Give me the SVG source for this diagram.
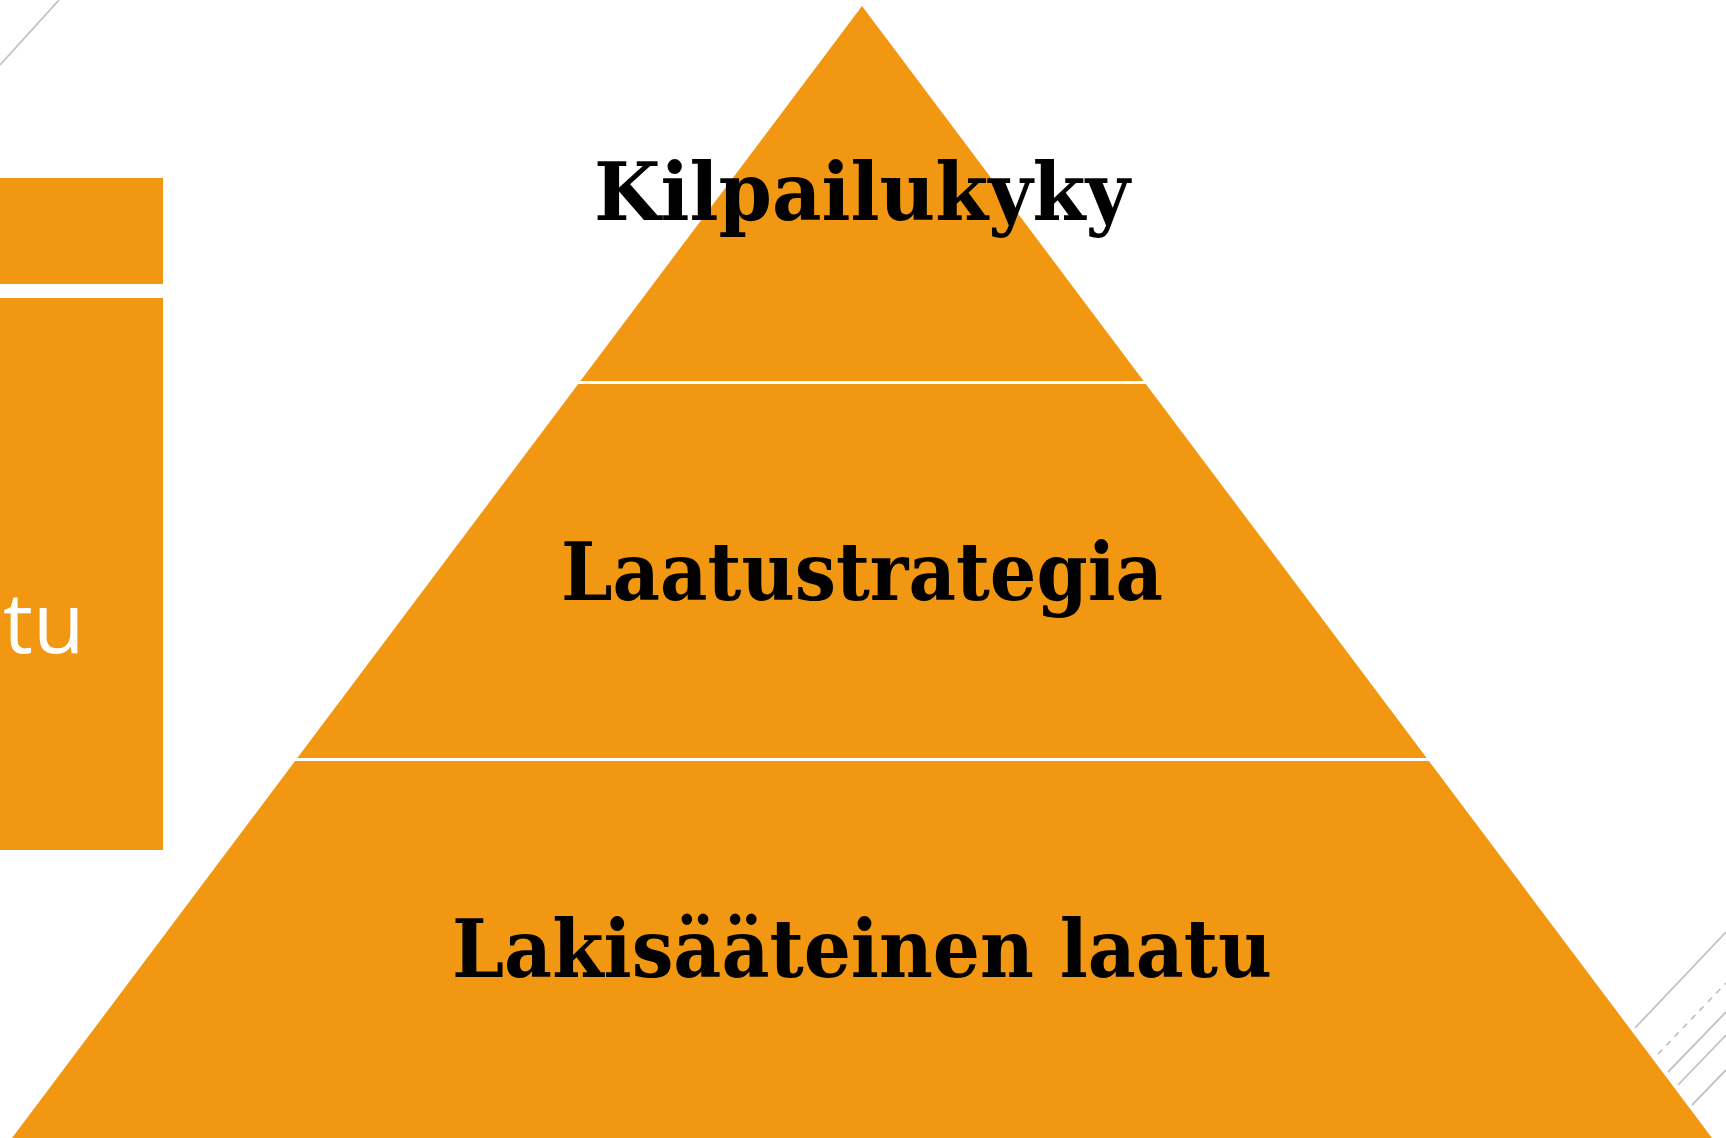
<svg xmlns="http://www.w3.org/2000/svg" width="1726" height="1138" viewBox="0 0 1726 1138">
<style>
.lvl{fill:#F29711}
.lbl{font-family:"DejaVu Serif","Liberation Serif",serif;font-size:80px;font-weight:bold;fill:#000;text-anchor:middle}
.deco{stroke:#C2C2C2;stroke-width:1.8;fill:none}
</style>
<rect width="1726" height="1138" fill="#fff"/>
<g id="decor">
<line class="deco" x1="0" y1="65" x2="59" y2="0"/>
<line class="deco" x1="1635" y1="1028" x2="1726" y2="932"/>
<line class="deco" x1="1658" y1="1054" x2="1726" y2="983" stroke-dasharray="6 6"/>
<line class="deco" x1="1668" y1="1072" x2="1726" y2="1012"/>
<line class="deco" x1="1678" y1="1085" x2="1726" y2="1035"/>
<line class="deco" x1="1692" y1="1105" x2="1726" y2="1070"/>
</g>
<g id="side-panel">
<rect class="lvl" x="0" y="178" width="163" height="106"/>
<rect class="lvl" x="0" y="298" width="163" height="552"/>
<text x="3" y="653" font-family="'Open Sans','Noto Sans',sans-serif" font-size="84" fill="#fff">tu</text>
</g>
<g id="level-top">
<polygon class="lvl" points="862,6 1143.6,381 580.4,381"/>
<text class="lbl" x="862" y="220" textLength="536" lengthAdjust="spacingAndGlyphs">Kilpailukyky</text>
</g>
<g id="level-middle">
<polygon class="lvl" points="578.2,384 1145.8,384 1426.7,758 297.3,758"/>
<text class="lbl" x="862" y="600" textLength="602" lengthAdjust="spacingAndGlyphs">Laatustrategia</text>
</g>
<g id="level-bottom">
<polygon class="lvl" points="295.1,761 1428.9,761 1712,1138 12,1138"/>
<text class="lbl" x="862" y="977" textLength="820" lengthAdjust="spacingAndGlyphs">Lakisääteinen laatu</text>
</g>
<g id="connectors"/>
</svg>
